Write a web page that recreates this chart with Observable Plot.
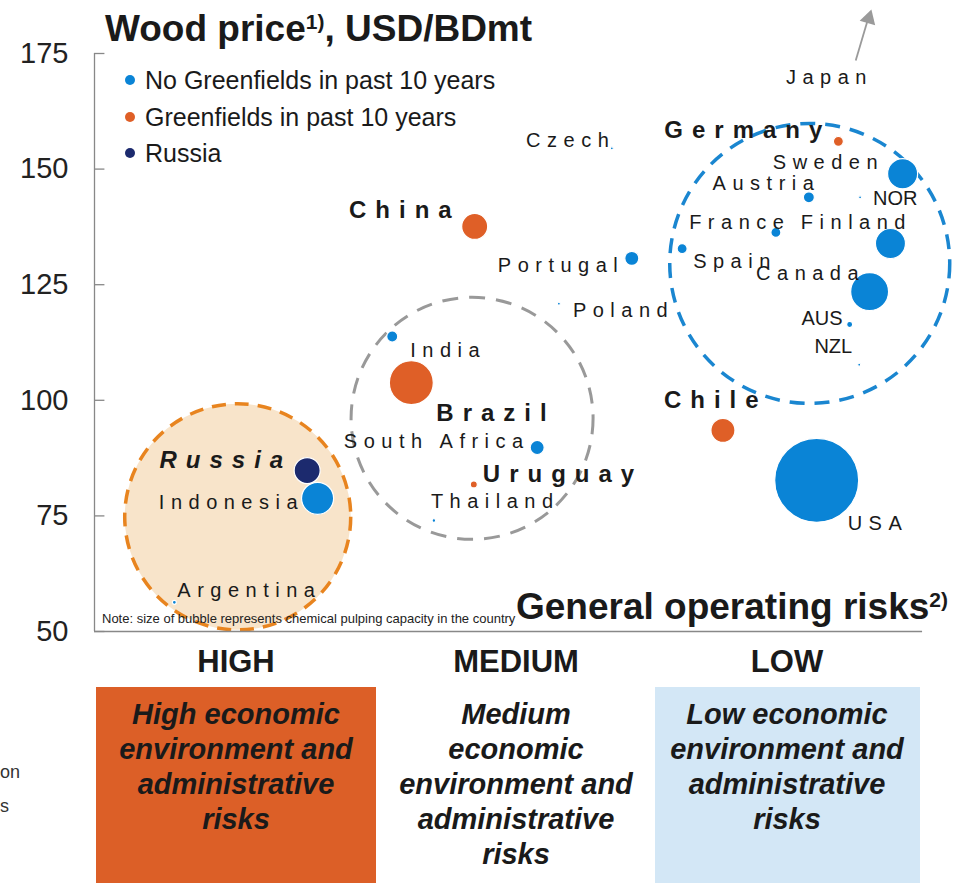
<!DOCTYPE html>
<html><head><meta charset="utf-8">
<script src="https://cdn.jsdelivr.net/npm/d3@7"></script>
<script src="https://cdn.jsdelivr.net/npm/@observablehq/plot@0.6"></script>
<style>
body{margin:0;background:#fff;font-family:"Liberation Sans",Arial,sans-serif;color:#1a1a1a;}
#wrap{position:relative;width:962px;height:883px;overflow:hidden;}
#wrap svg{position:absolute;left:0;top:0;overflow:visible;}
.abs{position:absolute;white-space:nowrap;line-height:1;}
.title{left:105px;top:10px;font-size:37px;font-weight:bold;color:#1a1a1a;}
.sup{font-size:21px;vertical-align:top;position:relative;top:1px;}
.xtitle{right:14px;top:588px;font-size:37px;font-weight:bold;color:#1a1a1a;}
.note{left:102px;top:612px;font-size:13px;color:#222;}
.leg{left:145px;font-size:25px;color:#1a1a1a;}
.legdot{position:absolute;width:10px;height:10px;border-radius:50%;}
.risk{font-size:31px;font-weight:bold;color:#1a1a1a;transform:translateX(-50%);}
.box{position:absolute;top:687px;height:196px;}
.boxtext{position:absolute;top:697px;font-size:29px;line-height:35px;font-weight:bold;font-style:italic;text-align:center;transform:translateX(-50%);white-space:nowrap;color:#1a1a1a;}
.cut{font-size:18px;color:#333;left:0;}
</style></head><body><div id="wrap"></div>
<script>
// ---- data ----
const countries = ["Russia","Indonesia","Argentina","India","Brazil","South Africa","Uruguay","Thailand","China","Portugal","Poland","Czech","Germany","Sweden","Austria","NOR","France","Finland","Spain","Canada","AUS","NZL","Chile","USA"];
const riskScore = [24.5,25.7,9.2,34.3,36.5,51.0,43.7,39.1,43.8,61.9,53.5,59.6,85.7,93.1,82.3,88.2,78.5,91.7,67.7,89.3,87.0,88.1,72.4,83.2];
const woodPrice = [84.8,78.8,56.3,113.8,103.8,89.8,81.8,74.0,137.6,130.7,120.9,154.5,156.0,149.0,143.9,143.9,136.3,133.9,132.8,123.5,116.4,107.7,93.5,82.7];
const capacity  = [4.8,7.3,0.11,0.86,13.7,1.4,0.35,0.09,4.8,1.4,0.06,0.06,0.71,6.4,0.86,0.06,0.71,6.4,0.71,10.2,0.26,0.06,4.1,50];
const groupOf   = ["Russia","No Greenfields in past 10 years","No Greenfields in past 10 years","No Greenfields in past 10 years","Greenfields in past 10 years","No Greenfields in past 10 years","Greenfields in past 10 years","No Greenfields in past 10 years","Greenfields in past 10 years","No Greenfields in past 10 years","No Greenfields in past 10 years","No Greenfields in past 10 years","Greenfields in past 10 years","No Greenfields in past 10 years","No Greenfields in past 10 years","No Greenfields in past 10 years","No Greenfields in past 10 years","No Greenfields in past 10 years","No Greenfields in past 10 years","No Greenfields in past 10 years","No Greenfields in past 10 years","No Greenfields in past 10 years","Greenfields in past 10 years","No Greenfields in past 10 years"];
const groups = ["No Greenfields in past 10 years","Greenfields in past 10 years","Russia"];
const yTicks = [50,75,100,125,150,175];
const riskLevels = ["HIGH","MEDIUM","LOW"];
const zoneRisk  = [16.5,43.5,82.4];
const zonePrice = [74.8,96.1,129.6];
const boxTexts = [
  ["High economic","environment and","administrative","risks"],
  ["Medium","economic","environment and","administrative","risks"],
  ["Low economic","environment and","administrative","risks"]
];
const japan = {country:"Japan", riskFrom:87.7, priceFrom:173.5, riskTo:89.2, priceTo:183.0, labelRisk:84.3, labelPrice:169.8};

// ---- layout / styles ----
const colors = ["#0a84d6","#df5f27","#1c2a6e"];
const zoneStyle = {
  HIGH:{r:113, stroke:"#e8841f", fill:"#f8e4ca", dash:"14,9", sw:3.5},
  MEDIUM:{r:121, stroke:"#999999", fill:"none", dash:"16,11", sw:3},
  LOW:{r:140, stroke:"#1a86d0", fill:"none", dash:"15,10", sw:3.5}
};
const labelLayout = [
 ["Russia",-24,-10,"end","bolditalic"],["Indonesia",-20,4,"end","normal"],["Argentina",3,-12,"start","normal"],
 ["India",18,14,"start","normal"],["Brazil",25,31,"start","bold"],["South Africa",-14,-6,"end","normal"],
 ["Uruguay",9,-10,"start","bold"],["Thailand",-3,-19,"start","normal"],["China",-23,-16,"end","bold"],
 ["Portugal",-14,7,"end","normal"],["Poland",14,7,"start","normal"],["Czech",-3,-8,"end","normal"],
 ["Germany",-16,-11,"end","bold"],["Sweden",-25,-11,"end","normal"],["Austria",5,-14,"end","normal"],
 ["NOR",13,1,"start","plain"],["France",8,-10,"end","normal"],["Finland",15,-21,"end","normal"],
 ["Spain",11,13,"start","normal"],["Canada",-11,-18,"end","normal"],["AUS",-7,-6,"end","plain"],
 ["NZL",-7,-18,"end","plain"],["Chile",-59,-30,"start","bold"],["USA",31,43,"start","normal"]
];
const labelStyles = {
  normal:{fs:20, ls:6.5, w:"normal", it:"normal"},
  bold:{fs:24, ls:9, w:"bold", it:"normal"},
  bolditalic:{fs:24, ls:9, w:"bold", it:"italic"},
  plain:{fs:20, ls:0, w:"normal", it:"normal"}
};

const data = countries.map((c,i)=>({country:c, risk:riskScore[i], price:woodPrice[i], cap:capacity[i], group:groupOf[i]}));
const byName = new Map(data.map(d=>[d.country,d]));
const zones = riskLevels.map((z,i)=>({zone:z, risk:zoneRisk[i], price:zonePrice[i]}));
const font = "Liberation Sans, Arial, sans-serif";

const zoneMarks = zones.map(z=>{
  const s = zoneStyle[z.zone];
  return Plot.dot([z], {x:"risk", y:"price", r:s.r, stroke:s.stroke, fill:s.fill, strokeWidth:s.sw, strokeDasharray:s.dash});
});
const labelMarks = labelLayout.map(([name,dx,dy,anchor,style])=>{
  const s = labelStyles[style];
  return Plot.text([byName.get(name)], {x:"risk", y:"price", text:"country", dx: anchor==="end"? dx + s.ls : dx, dy,
    textAnchor:anchor, lineAnchor:"middle", fontSize:s.fs, fontWeight:s.w, fontStyle:s.it, fontFamily:font,
    fill:"#1a1a1a", ariaLabel:()=>"lbl-"+style});
});

const plot = Plot.plot({
  width:962, height:640,
  marginTop:53, marginBottom:9, marginLeft:94, marginRight:0,
  x:{domain:[0,100], axis:null},
  y:{domain:[50,175], axis:null},
  r:{type:"sqrt", domain:[0,50], range:[0,42]},
  color:{domain:groups, range:colors},
  style:{fontFamily:font, background:"transparent"},
  marks:[
    ...zoneMarks,
    Plot.ruleX([0], {y1:50, y2:175, stroke:"#888", strokeWidth:1.3}),
    Plot.ruleY([50], {x1:0, x2:95.4, stroke:"#888", strokeWidth:1.3}),
    Plot.ruleY(yTicks, {x1:0, x2:1.2, stroke:"#888", strokeWidth:1.3}),
    Plot.axisY(yTicks, {tickSize:0, tickPadding:26, fontSize:29, fill:"#222", label:null, fontFamily:font}),
    Plot.dot(data, {x:"risk", y:"price", r:"cap", fill:"group", stroke:"white", strokeWidth:1.2, sort:{channel:"-r"}}),
    ...labelMarks,
    Plot.link([japan], {x1:"riskFrom", y1:"priceFrom", x2:"riskTo", y2:"priceTo", stroke:"#9a9a9a", strokeWidth:1.8}),
    Plot.dot([japan], {x:"riskTo", y:"priceTo", symbol:"triangle", r:6, rotate:16.5, fill:"#9a9a9a", dy:2}),
    Plot.text([japan], {x:"labelRisk", y:"labelPrice", text:"country", dx:3.25, textAnchor:"middle", lineAnchor:"middle", fontSize:20, fontFamily:font, fill:"#1a1a1a", ariaLabel:()=>"lbl-normal"})
  ]
});
const svg = d3.select(plot);
Object.entries(labelStyles).forEach(([k,s])=>{
  svg.selectAll(`[aria-label="lbl-${k}"]`).each(function(){
    const el = d3.select(this);
    (this.tagName.toLowerCase()==="text" ? el : el.selectAll("text")).attr("letter-spacing", s.ls);
  });
});
const wrap = document.getElementById("wrap");
wrap.appendChild(plot);

// ---- overlay texts ----
function add(html, cls, css){ const d=document.createElement("div"); d.className="abs "+cls; d.innerHTML=html; if(css) Object.assign(d.style,css); wrap.appendChild(d); return d; }
add('Wood price<span class="sup">1)</span>, USD/BDmt', "title");
add('General operating risks<span class="sup">2)</span>', "xtitle");
add('Note: size of bubble represents chemical pulping capacity in the country', "note");
const legTops = [68,105,141];
groups.forEach((g,i)=>{
  add(g, "leg", {top:legTops[i]+"px"});
  const dot=document.createElement("div"); dot.className="legdot";
  Object.assign(dot.style,{left:"125px", top:(legTops[i]+7)+"px", background:colors[i]});
  wrap.appendChild(dot);
});
// bottom section
const boxBg = ["#dc5f27","#ffffff","#d3e7f6"];
const boxLeft = [96,376,655], boxWidth=[280,279,265];
const centers = [236,516,787];
riskLevels.forEach((r,i)=>{
  const b=document.createElement("div"); b.className="box";
  Object.assign(b.style,{left:boxLeft[i]+"px", width:boxWidth[i]+"px", background:boxBg[i]});
  wrap.appendChild(b);
  add(r, "risk", {left:centers[i]+"px", top:"646px"});
  const t=document.createElement("div"); t.className="boxtext"; t.style.left=centers[i]+"px";
  t.innerHTML = boxTexts[i].join("<br>"); wrap.appendChild(t);
});
add("on","cut",{top:"763px"});
add("s","cut",{top:"797px"});
</script></body></html>
